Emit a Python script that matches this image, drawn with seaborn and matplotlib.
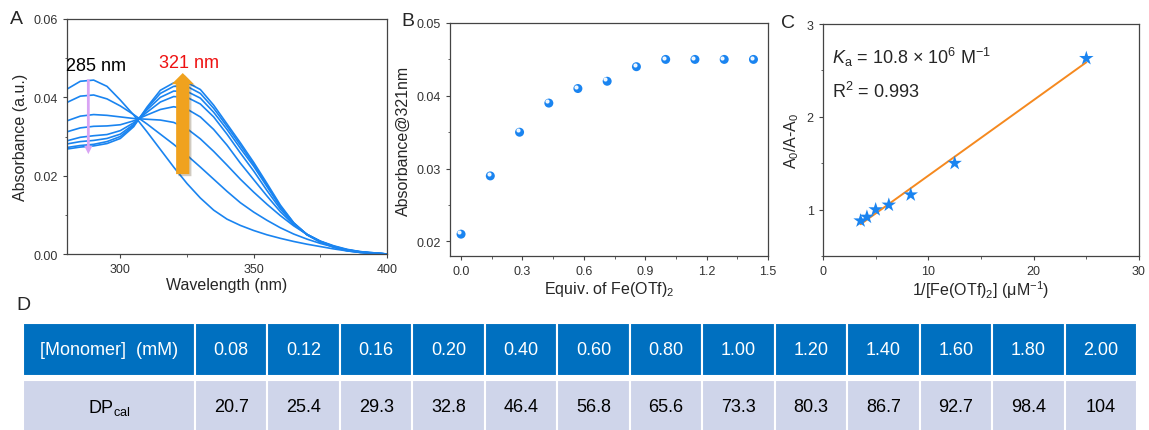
import numpy as np
import pandas as pd
import matplotlib
matplotlib.use("Agg")
import matplotlib.pyplot as plt
import matplotlib.transforms as mtransforms
import matplotlib.patheffects as pe
from matplotlib.patches import Rectangle
from matplotlib.ticker import MultipleLocator, FormatStrFormatter
import seaborn as sns

# ---- data ----
# A: UV-vis spectra during Fe(OTf)2 titration (every 5 nm)
wavelength = [280, 285, 290, 295, 300, 305, 310, 315, 320, 325, 330, 335, 340,
              345, 350, 355, 360, 365, 370, 375, 380, 385, 390, 395, 400]
spec_0 = [0.0421, 0.0441, 0.0444, 0.0428, 0.0393, 0.0355, 0.0312, 0.0267, 0.0222, 0.0180, 0.0143, 0.0112, 0.0089,
          0.0073, 0.0060, 0.0049, 0.0040, 0.0032, 0.0025, 0.0019, 0.0013, 0.0008, 0.0004, 0.0002, 0.0]
spec_1 = [0.0387, 0.0403, 0.0406, 0.0396, 0.0378, 0.0356, 0.0332, 0.0306, 0.0280, 0.0252, 0.0222, 0.0191, 0.0160,
          0.0131, 0.0107, 0.0086, 0.0067, 0.0051, 0.0038, 0.0027, 0.0018, 0.0011, 0.0006, 0.0003, 0.0]
spec_2 = [0.0340, 0.0352, 0.0356, 0.0354, 0.0350, 0.0346, 0.0344, 0.0342, 0.0336, 0.0320, 0.0294, 0.0262, 0.0227,
          0.0191, 0.0158, 0.0127, 0.0098, 0.0072, 0.0050, 0.0033, 0.0021, 0.0012, 0.0006, 0.0003, 0.0]
spec_3 = [0.0312, 0.0322, 0.0326, 0.0327, 0.0330, 0.0340, 0.0355, 0.0369, 0.0376, 0.0370, 0.0350, 0.0318, 0.0278,
          0.0232, 0.0190, 0.0148, 0.0108, 0.0075, 0.0050, 0.0032, 0.0020, 0.0011, 0.0005, 0.0002, 0.0]
spec_4 = [0.0289, 0.0298, 0.0302, 0.0305, 0.0315, 0.0335, 0.0362, 0.0388, 0.0402, 0.0400, 0.0383, 0.0350, 0.0306,
          0.0258, 0.0212, 0.0162, 0.0115, 0.0077, 0.0050, 0.0032, 0.0019, 0.0010, 0.0005, 0.0002, 0.0]
spec_5 = [0.0281, 0.0287, 0.0290, 0.0295, 0.0306, 0.0331, 0.0368, 0.0400, 0.0416, 0.0415, 0.0398, 0.0362, 0.0318,
          0.0270, 0.0224, 0.0172, 0.0120, 0.0079, 0.0050, 0.0032, 0.0019, 0.0010, 0.0005, 0.0002, 0.0]
spec_6 = [0.0272, 0.0277, 0.0280, 0.0287, 0.0300, 0.0328, 0.0372, 0.0410, 0.0428, 0.0428, 0.0410, 0.0372, 0.0326,
          0.0278, 0.0229, 0.0176, 0.0122, 0.0079, 0.0049, 0.0031, 0.0018, 0.0009, 0.0004, 0.0002, 0.0]
spec_7 = [0.0268, 0.0273, 0.0276, 0.0282, 0.0295, 0.0325, 0.0375, 0.0418, 0.0437, 0.0438, 0.0420, 0.0380, 0.0332,
          0.0284, 0.0234, 0.0180, 0.0125, 0.0080, 0.0049, 0.0030, 0.0017, 0.0008, 0.0004, 0.0002, 0.0]
spectra = [spec_0, spec_1, spec_2, spec_3, spec_4, spec_5, spec_6, spec_7]

# B: absorbance at 321 nm vs equivalents
equiv = [0.0, 0.143, 0.286, 0.429, 0.571, 0.714, 0.857, 1.0, 1.143, 1.286, 1.429]
abs321 = [0.021, 0.029, 0.035, 0.039, 0.041, 0.042, 0.044, 0.045, 0.045, 0.045, 0.045]

# C: Benesi-Hildebrand plot
inv_fe = [3.57, 4.17, 5.0, 6.25, 8.33, 12.5, 25.0]
a_ratio = [0.88, 0.92, 1.00, 1.05, 1.16, 1.50, 2.63]

# D: table
monomer = ["0.08", "0.12", "0.16", "0.20", "0.40", "0.60", "0.80",
           "1.00", "1.20", "1.40", "1.60", "1.80", "2.00"]
dp_cal = ["20.7", "25.4", "29.3", "32.8", "46.4", "56.8", "65.6",
          "73.3", "80.3", "86.7", "92.7", "98.4", "104"]

# ---- style ----
sns.set_style("ticks")
plt.rcParams["font.family"] = ["Liberation Sans", "DejaVu Sans"]
plt.rcParams["mathtext.fontset"] = "custom"
plt.rcParams["mathtext.rm"] = "Liberation Sans"
plt.rcParams["mathtext.it"] = "Liberation Sans:italic"
plt.rcParams["axes.edgecolor"] = "#444444"
plt.rcParams["axes.linewidth"] = 0.9
for k in ("xtick", "ytick"):
    plt.rcParams[f"{k}.color"] = "#444444"
    plt.rcParams[f"{k}.labelcolor"] = "#333333"
    plt.rcParams[f"{k}.labelsize"] = 9
    plt.rcParams[f"{k}.major.size"] = 3.2
    plt.rcParams[f"{k}.minor.size"] = 1.8
    plt.rcParams[f"{k}.minor.visible"] = True

blue = "#1a84f0"
W, H = 1149, 431
fig = plt.figure(figsize=(W / 100, H / 100), dpi=100)

axA = fig.add_axes([67 / W, 1 - 255 / H, 320 / W, 235 / H])
axB = fig.add_axes([450 / W, 1 - 257 / H, 318 / W, 233 / H])
axC = fig.add_axes([823 / W, 1 - 257 / H, 316 / W, 232 / H])
axT = fig.add_axes([23 / W, 0, 1114 / W, 107 / H])

# ---- A ----
dfA = pd.DataFrame({
    "wavelength": np.tile(wavelength, len(spectra)),
    "absorbance": np.concatenate(spectra),
    "step": np.repeat(np.arange(len(spectra)), len(wavelength)),
})
sns.lineplot(data=dfA, x="wavelength", y="absorbance", hue="step",
             palette=[blue] * len(spectra), legend=False, lw=1.2, ax=axA)
axA.set_xlim(280, 400)
axA.set_ylim(0, 0.06)
axA.xaxis.set_major_locator(MultipleLocator(50))
axA.xaxis.set_minor_locator(MultipleLocator(25))
axA.yaxis.set_major_locator(MultipleLocator(0.02))
axA.yaxis.set_minor_locator(MultipleLocator(0.01))
axA.yaxis.set_major_formatter(FormatStrFormatter("%.2f"))
axA.set_xlabel("Wavelength (nm)", fontsize=11.5, labelpad=1)
axA.set_ylabel("Absorbance (a.u.)", fontsize=11.5, labelpad=4)

axA.annotate("", xy=(288, 0.0255), xytext=(288, 0.0446),
             arrowprops=dict(arrowstyle="simple,head_width=6,head_length=6,tail_width=2",
                             mutation_scale=1, color="#d8a4f4", lw=0, shrinkA=0, shrinkB=0))
axA.annotate("", xy=(323.4, 0.0462), xytext=(323.4, 0.0204),
             arrowprops=dict(arrowstyle="simple,head_width=16,head_length=8,tail_width=9.5",
                             mutation_scale=1, color="#f0a21e", lw=0, shrinkA=0, shrinkB=0,
                             path_effects=[pe.SimplePatchShadow(offset=(1.5, -1.5), alpha=0.25),
                                           pe.Normal()]))
axA.text(279.5, 0.0481, "285 nm", fontsize=13, color="black", ha="left", va="center")
axA.text(325.6, 0.0489, "321 nm", fontsize=13, color="#ee1111", ha="center", va="center")

# ---- B ----
dfB = pd.DataFrame({"equiv": equiv, "abs": abs321})
sns.scatterplot(data=dfB, x="equiv", y="abs", s=42, color=blue, edgecolor="none", ax=axB)
hl = axB.transData + mtransforms.ScaledTranslation(-1.3 / 72, 1.3 / 72, fig.dpi_scale_trans)
axB.scatter(dfB["equiv"], dfB["abs"], s=4, color="white", alpha=0.9, transform=hl, zorder=5)
axB.set_xlim(-0.054, 1.5)
axB.set_ylim(0.018, 0.05)
axB.xaxis.set_major_locator(MultipleLocator(0.3))
axB.xaxis.set_minor_locator(MultipleLocator(0.15))
axB.yaxis.set_major_locator(MultipleLocator(0.01))
axB.yaxis.set_minor_locator(MultipleLocator(0.005))
axB.xaxis.set_major_formatter(FormatStrFormatter("%.1f"))
axB.yaxis.set_major_formatter(FormatStrFormatter("%.2f"))
axB.set_xlabel("Equiv. of Fe(OTf)$_2$", fontsize=11.5, labelpad=1)
axB.set_ylabel("Absorbance@321nm", fontsize=11.5, labelpad=4)

# ---- C ----
dfC = pd.DataFrame({"inv": inv_fe, "ratio": a_ratio})
sns.regplot(data=dfC, x="inv", y="ratio", ci=None, scatter=False,
            line_kws=dict(color="#f5891f", lw=1.4), ax=axC)
sns.scatterplot(data=dfC, x="inv", y="ratio", marker="*", s=120, color=blue,
                edgecolor="none", zorder=5, ax=axC)
axC.set_xlim(0, 30)
axC.set_ylim(0.5, 3)
axC.xaxis.set_major_locator(MultipleLocator(10))
axC.xaxis.set_minor_locator(MultipleLocator(5))
axC.yaxis.set_major_locator(MultipleLocator(1))
axC.yaxis.set_minor_locator(MultipleLocator(0.5))
axC.set_xlabel("1/[Fe(OTf)$_2$] (μM$^{-1}$)", fontsize=11.5, labelpad=1)
axC.set_ylabel("A$_0$/A-A$_0$", fontsize=11.5, labelpad=4)
axC.text(0.03, 0.86, "$K_\\mathrm{a}$ = 10.8 × 10$^6$ M$^{-1}$", transform=axC.transAxes,
         fontsize=13, ha="left", va="center")
axC.text(0.03, 0.71, "R$^2$ = 0.993", transform=axC.transAxes,
         fontsize=13, ha="left", va="center")

for ax in (axA, axB, axC):
    ax.tick_params(which="both", top=False, right=False, direction="out")
    for s in ax.spines.values():
        s.set_visible(True)

# ---- D: table ----
axT.set_xlim(0, 1114)
axT.set_ylim(107, 0)
axT.axis("off")
first_w = 172
col_w = (1114 - first_w) / len(monomer)
head_h, row_top = 53, 57
axT.add_patch(Rectangle((0, 0), first_w, head_h, fc="#0070c0", ec="white", lw=1.5))
axT.add_patch(Rectangle((0, row_top), first_w, 60, fc="#cfd5ea", ec="white", lw=1.5))
axT.text(first_w / 2, head_h / 2, "[Monomer]  (mM)", color="white", fontsize=13,
         ha="center", va="center")
axT.text(first_w / 2, 84, "DP$_\\mathrm{cal}$", color="black", fontsize=13,
         ha="center", va="center")
for i, (m, d) in enumerate(zip(monomer, dp_cal)):
    x0 = first_w + i * col_w
    axT.add_patch(Rectangle((x0, 0), col_w, head_h, fc="#0070c0", ec="white", lw=1.5))
    axT.add_patch(Rectangle((x0, row_top), col_w, 60, fc="#cfd5ea", ec="white", lw=1.5))
    axT.text(x0 + col_w / 2, head_h / 2, m, color="white", fontsize=13, ha="center", va="center")
    axT.text(x0 + col_w / 2, 84, d, color="black", fontsize=13, ha="center", va="center")

# panel letters
fig.text(10 / W, 1 - 20 / H, "A", fontsize=14, va="center")
fig.text(401 / W, 1 - 22 / H, "B", fontsize=14, va="center")
fig.text(781 / W, 1 - 24 / H, "C", fontsize=14, va="center")
fig.text(16 / W, 1 - 306 / H, "D", fontsize=14, va="center")

fig.savefig("out.png", dpi=100)
